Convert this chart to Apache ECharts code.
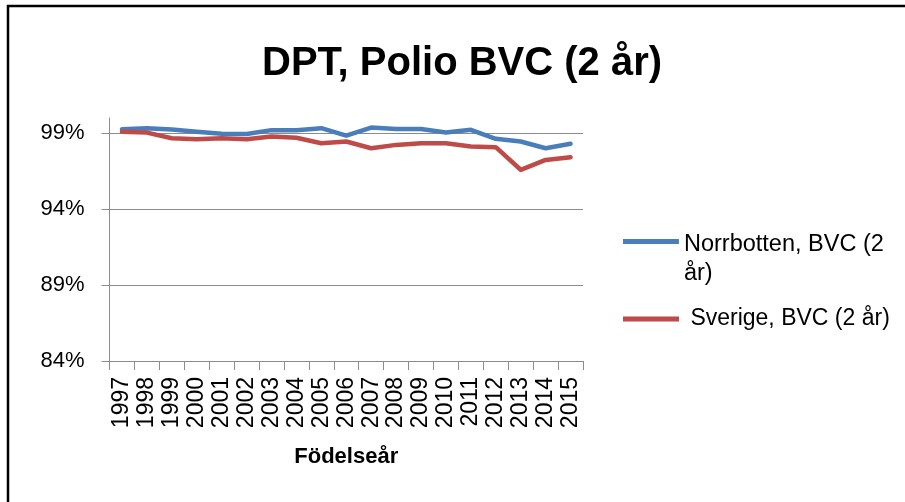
<!DOCTYPE html>
<html>
<head>
<meta charset="utf-8">
<script src="https://cdn.jsdelivr.net/npm/echarts@6/dist/echarts.min.js"></script>
<style>
html,body{margin:0;padding:0;background:#fff;overflow:hidden;}
#c{width:905px;height:502px;}
</style>
</head>
<body>
<div id="c"></div>
<script>
var years = ['1997','1998','1999','2000','2001','2002','2003','2004','2005','2006','2007','2008','2009','2010','2011','2012','2013','2014','2015'];
var norrbotten = [99.26, 99.33, 99.24, 99.10, 98.97, 98.95, 99.20, 99.20, 99.33, 98.84, 99.37, 99.28, 99.28, 99.04, 99.22, 98.63, 98.45, 98.01, 98.30];
var sverige = [99.10, 99.04, 98.67, 98.60, 98.67, 98.60, 98.78, 98.70, 98.34, 98.45, 98.01, 98.23, 98.34, 98.34, 98.12, 98.08, 96.59, 97.24, 97.42];
var yTicks = [84, 89, 94, 99];
var seriesNames = ['Norrbotten, BVC (2 år)', 'Sverige, BVC (2 år)'];
var titleText = 'DPT, Polio BVC (2 år)';
var xName = 'Födelseår';

var FONT = "'Liberation Sans', Arial, sans-serif";
var BLUE = '#4A7EBB', RED = '#BE4B48', GRAY = '#8C8C8C';

var chart = echarts.init(document.getElementById('c'), null, {renderer: 'canvas'});
chart.setOption({
  animation: false,
  backgroundColor: '#fff',
  graphic: [{
    type: 'polyline', silent: true,
    shape: {points: [[8, 1200], [8, 6], [1200, 6]]},
    style: {fill: 'none', stroke: '#000', lineWidth: 2.5}
  }],
  title: {
    text: titleText,
    left: 262, top: 44, padding: 0,
    textStyle: {fontFamily: FONT, fontSize: 40, fontWeight: 'bold', color: '#000'}
  },
  legend: [{
    data: [{name: seriesNames[0], icon: 'path://M0,0H56V5H0Z M0,40H0.05V40.05H0Z'}],
    orient: 'vertical', left: 623, top: 230, padding: 0,
    itemWidth: 56, itemHeight: 40, itemGap: 0,
    formatter: function (n) { return 'Norrbotten, BVC (2\når)'; },
    textStyle: {fontFamily: FONT, fontSize: 23.5, color: '#000', lineHeight: 29}
  }, {
    data: [seriesNames[1]],
    orient: 'vertical', left: 623, top: 304, padding: 0,
    itemWidth: 56, itemHeight: 5, itemGap: 0, icon: 'rect',
    formatter: function (n) { return ' ' + n; },
    textStyle: {fontFamily: FONT, fontSize: 23, color: '#000', lineHeight: 30}
  }],
  grid: {left: 109.5, right: 322, top: 118, bottom: 141, containLabel: false},
  xAxis: {
    type: 'category', data: years, boundaryGap: true,
    axisLine: {lineStyle: {color: GRAY, width: 1}},
    axisTick: {show: true, length: 9, interval: 0, lineStyle: {color: GRAY}},
    axisLabel: {rotate: 90, interval: 0, margin: 16, fontFamily: FONT, fontSize: 23, color: '#000'},
    name: xName, nameLocation: 'middle', nameGap: 85,
    nameTextStyle: {fontFamily: FONT, fontSize: 22, fontWeight: 'bold', color: '#000'}
  },
  yAxis: {
    type: 'value', min: 84, max: 100, interval: 5,
    axisLine: {show: true, lineStyle: {color: GRAY, width: 1}},
    axisTick: {show: true, length: 8, lineStyle: {color: GRAY}, customValues: yTicks},
    axisLabel: {margin: 25, fontFamily: FONT, fontSize: 22, color: '#000',
      customValues: yTicks,
      formatter: function (v) { return v + '%'; }},
    splitLine: {show: true, lineStyle: {color: GRAY, width: 1}}
  },
  series: [{
    name: seriesNames[0], type: 'line', data: norrbotten,
    symbol: 'none', lineStyle: {color: BLUE, width: 4.5, join: 'round', cap: 'round'},
    itemStyle: {color: BLUE}
  }, {
    name: seriesNames[1], type: 'line', data: sverige,
    symbol: 'none', lineStyle: {color: RED, width: 4.5, join: 'round', cap: 'round'},
    itemStyle: {color: RED}
  }]
});
</script>
</body>
</html>
